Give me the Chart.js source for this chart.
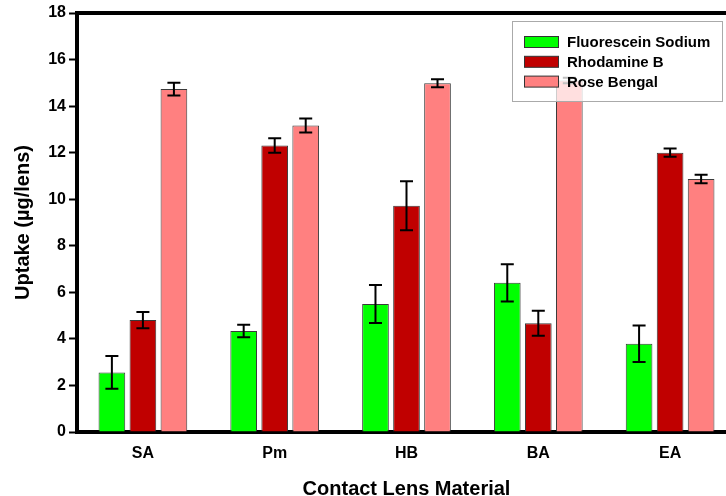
<!DOCTYPE html>
<html>
<head>
<meta charset="utf-8">
<script src="https://cdn.jsdelivr.net/npm/chart.js@4"></script>
<style>
    html, body { margin: 0; padding: 0; overflow: hidden; background: #fff; }
    #wrap { width: 726px; height: 496px; overflow: hidden; }
</style>
</head>
<body>
<div id="wrap"><canvas id="cv-uptake" width="740" height="496"></canvas></div>
<script>
const materials = ['SA', 'Pm', 'HB', 'BA', 'EA'];

const fluoresceinSodium = [2.56, 4.34, 5.50, 6.41, 3.79];
const fluoresceinErr = [0.70, 0.27, 0.82, 0.80, 0.78];

const rhodamineB = [4.81, 12.31, 9.72, 4.67, 12.00];
const rhodamineErr = [0.35, 0.31, 1.05, 0.54, 0.18];

const roseBengal = [14.73, 13.17, 14.98, 15.10, 10.87];
const roseErr = [0.27, 0.30, 0.17, 0.12, 0.18];

const yTicks = [0, 2, 4, 6, 8, 10, 12, 14, 16, 18];

const FONT = '"Liberation Sans", Arial, sans-serif';

// error bars drawn through the y scale
const errorBars = {
    id: 'errorBars',
    afterDatasetsDraw(chart) {
        const ctx = chart.ctx;
        const y = chart.scales.y;
        ctx.save();
        ctx.strokeStyle = '#000';
        ctx.lineWidth = 2;
        chart.data.datasets.forEach((ds, i) => {
            const meta = chart.getDatasetMeta(i);
            meta.data.forEach((bar, j) => {
                const v = ds.data[j];
                const e = ds.errors[j];
                const yTop = y.getPixelForValue(v + e);
                const yBot = y.getPixelForValue(v - e);
                const cap = 6.5;
                ctx.beginPath();
                ctx.moveTo(bar.x, yTop);
                ctx.lineTo(bar.x, yBot);
                ctx.moveTo(bar.x - cap, yTop);
                ctx.lineTo(bar.x + cap, yTop);
                ctx.moveTo(bar.x - cap, yBot);
                ctx.lineTo(bar.x + cap, yBot);
                ctx.stroke();
            });
        });
        ctx.restore();
    }
};

// top frame line + boxed legend drawn over the bars
const frameAndLegend = {
    id: 'frameAndLegend',
    afterDraw(chart) {
        const ctx = chart.ctx;
        const a = chart.chartArea;
        ctx.save();
        ctx.strokeStyle = '#000';
        ctx.lineWidth = 4;
        ctx.beginPath();
        ctx.moveTo(a.left - 2, a.top);
        ctx.lineTo(a.right + 2, a.top);
        ctx.stroke();

        const bx = 512.5, by = 21.5, bw = 210, bh = 80;
        ctx.fillStyle = 'rgba(255,255,255,0.75)';
        ctx.fillRect(bx, by, bw, bh);
        ctx.strokeStyle = '#aaaaaa';
        ctx.lineWidth = 1;
        ctx.strokeRect(bx, by, bw, bh);

        ctx.font = 'bold 15px ' + FONT;
        ctx.textBaseline = 'middle';
        ctx.textAlign = 'left';
        chart.data.datasets.forEach((ds, i) => {
            const ry = 42 + i * 19.8;
            ctx.fillStyle = ds.backgroundColor;
            ctx.fillRect(524.5, ry - 5.5, 34, 11);
            ctx.strokeStyle = '#333';
            ctx.strokeRect(524.5, ry - 5.5, 34, 11);
            ctx.fillStyle = '#000';
            ctx.fillText(ds.label, 567, ry + 1);
        });
        ctx.restore();
    }
};

const uptakeChart = new Chart(document.getElementById('cv-uptake'), {
    type: 'bar',
    data: {
        labels: materials,
        datasets: [{
            label: 'Fluorescein Sodium',
            data: fluoresceinSodium,
            errors: fluoresceinErr,
            backgroundColor: 'rgb(0,255,0)',
            borderColor: '#3a3a3a',
            borderWidth: 1,
            categoryPercentage: 0.706,
            barPercentage: 0.86
        }, {
            label: 'Rhodamine B',
            data: rhodamineB,
            errors: rhodamineErr,
            backgroundColor: 'rgb(192,0,0)',
            borderColor: '#3a3a3a',
            borderWidth: 1,
            categoryPercentage: 0.706,
            barPercentage: 0.86
        }, {
            label: 'Rose Bengal',
            data: roseBengal,
            errors: roseErr,
            backgroundColor: 'rgb(255,128,128)',
            borderColor: '#3a3a3a',
            borderWidth: 1,
            categoryPercentage: 0.706,
            barPercentage: 0.86
        }]
    },
    options: {
        responsive: false,
        devicePixelRatio: 1,
        animation: false,
        layout: { padding: { top: 13, right: 4, left: 0, bottom: 0 } },
        plugins: {
            legend: { display: false },
            tooltip: { enabled: false }
        },
        scales: {
            x: {
                afterFit: (s) => { s.height = 64; },
                grid: { display: false, drawTicks: false },
                border: { display: true, color: '#000', width: 4 },
                ticks: {
                    color: '#000',
                    padding: 12,
                    font: { family: FONT, size: 16, weight: 'bold' }
                },
                title: {
                    display: true,
                    text: 'Contact Lens Material',
                    color: '#000',
                    padding: { top: 0, bottom: -5 },
                    font: { family: FONT, size: 20, weight: 'bold' }
                }
            },
            y: {
                min: 0,
                max: 18,
                afterFit: (s) => { s.width = 77; },
                afterBuildTicks: (s) => { s.ticks = yTicks.map(v => ({ value: v })); },
                grid: {
                    drawOnChartArea: false,
                    drawTicks: true,
                    tickLength: 8,
                    tickWidth: 2,
                    tickColor: '#000'
                },
                border: { display: true, color: '#000', width: 4 },
                ticks: {
                    color: '#000',
                    padding: 3,
                    font: { family: FONT, size: 16, weight: 'bold' }
                },
                title: {
                    display: true,
                    text: 'Uptake (\u00b5g/lens)',
                    color: '#000',
                    padding: { top: 11, bottom: 0 },
                    font: { family: FONT, size: 20, weight: 'bold' }
                }
            }
        }
    },
    plugins: [errorBars, frameAndLegend]
});
</script>
</body>
</html>
